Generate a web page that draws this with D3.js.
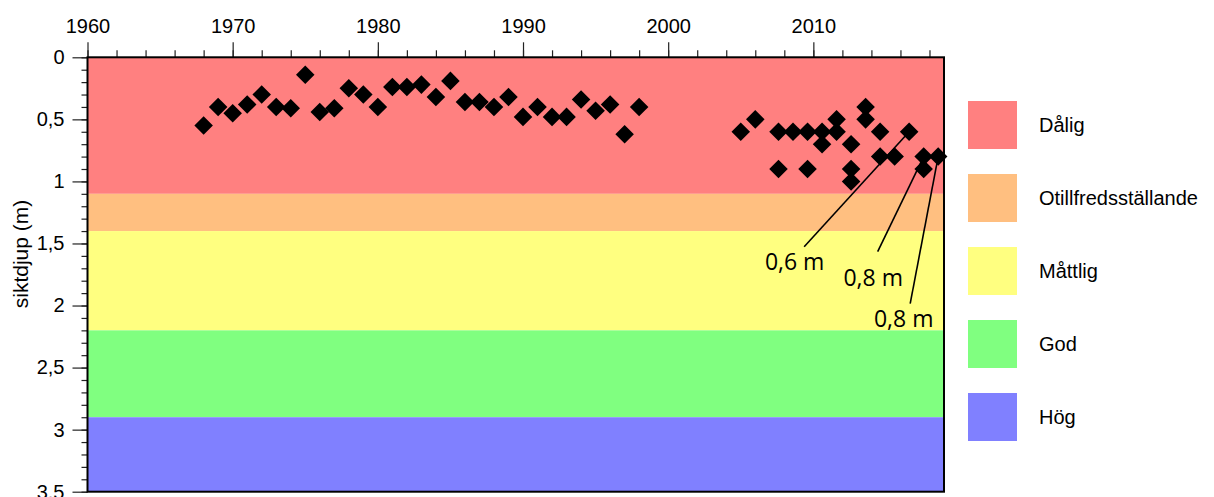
<!DOCTYPE html>
<html>
<head>
<meta charset="utf-8">
<script src="https://cdn.jsdelivr.net/npm/d3@7"></script>
<style>
  html, body { margin: 0; padding: 0; background: #fff; }
  svg { display: block; }
  text { font-family: "Liberation Sans", Arial, sans-serif; fill: #000; }
</style>
</head>
<body>
<svg id="chart" width="1214" height="497"></svg>
<script>
// Secchi depth (siktdjup, m) per sampling occasion, decimal year
const years = [
  1968, 1969, 1970, 1971, 1972, 1973, 1974, 1975, 1976, 1977,
  1978, 1979, 1980, 1981, 1982, 1983, 1984, 1985, 1986, 1987,
  1988, 1989, 1990, 1991, 1992, 1993, 1994, 1995, 1996, 1997, 1998,
  2005, 2006, 2007.6, 2007.6, 2008.6, 2009.6, 2009.6, 2010.6, 2010.6,
  2011.6, 2011.6, 2012.6, 2012.6, 2012.6, 2013.6, 2013.6, 2014.6, 2014.6,
  2015.6, 2016.6, 2017.6, 2017.6, 2018.6
];
const depths = [
  0.55, 0.40, 0.45, 0.38, 0.30, 0.40, 0.41, 0.14, 0.44, 0.41,
  0.25, 0.30, 0.40, 0.24, 0.24, 0.22, 0.32, 0.19, 0.36, 0.36,
  0.40, 0.32, 0.48, 0.40, 0.48, 0.48, 0.34, 0.43, 0.38, 0.62, 0.40,
  0.6, 0.5, 0.6, 0.9, 0.6, 0.6, 0.9, 0.6, 0.7,
  0.5, 0.6, 0.7, 0.9, 1.0, 0.4, 0.5, 0.6, 0.8,
  0.8, 0.6, 0.8, 0.9, 0.8
];

// Status classes and their depth limits (m)
const classNames = ["Dålig", "Otillfredsställande", "Måttlig", "God", "Hög"];
const classLimits = [0, 1.1, 1.4, 2.2, 2.9, 3.5];
const classColors = ["#ff8080", "#ffbf80", "#ffff80", "#80ff80", "#8080ff"];

// Axis ticks
const xMajorTicks = [1960, 1970, 1980, 1990, 2000, 2010];
const xMinorTicks = d3.range(1960, 2019, 2);
const yMajorTicks = [0, 0.5, 1, 1.5, 2, 2.5, 3, 3.5];
const yMinorTicks = d3.range(0, 36).map(i => i / 10);

// Labelled recent observations
const noteYears = [2016.6, 2017.6, 2018.6];
const noteDepths = [0.6, 0.8, 0.8];

const svg = d3.select("#chart");
const plot = { left: 87.5, right: 944, top: 57.3, bottom: 491.7 };

const x = d3.scaleLinear().domain([1960, 2019]).range([plot.left, plot.right]);
const y = d3.scaleLinear().domain([0, 3.5]).range([plot.top, plot.bottom]);
const comma = v => String(v).replace(".", ",");

// Class bands
svg.append("g").selectAll("rect")
  .data(classNames)
  .join("rect")
  .attr("x", plot.left)
  .attr("width", plot.right - plot.left)
  .attr("y", (d, i) => y(classLimits[i]))
  .attr("height", (d, i) => y(classLimits[i + 1]) - y(classLimits[i]))
  .attr("fill", (d, i) => classColors[i]);

// Top axis: minor and major ticks
const tickStyle = g => {
  g.select(".domain").remove();
  g.selectAll(".tick line").attr("stroke", "#222").attr("stroke-width", 1.2);
  g.selectAll(".tick text").style("font-size", "20px").attr("fill", "#000");
};
svg.append("g")
  .attr("transform", `translate(0,${plot.top})`)
  .call(d3.axisTop(x).tickValues(xMinorTicks).tickSize(7).tickFormat(""))
  .call(tickStyle);
svg.append("g")
  .attr("transform", `translate(0,${plot.top})`)
  .call(d3.axisTop(x).tickValues(xMajorTicks).tickSize(15).tickPadding(9).tickFormat(d3.format("d")))
  .call(tickStyle);

// Left axis: minor and major ticks
svg.append("g")
  .attr("transform", `translate(${plot.left},0)`)
  .call(d3.axisLeft(y).tickValues(yMinorTicks).tickSize(6).tickFormat(""))
  .call(tickStyle);
svg.append("g")
  .attr("transform", `translate(${plot.left},0)`)
  .call(d3.axisLeft(y).tickValues(yMajorTicks).tickSize(15).tickPadding(8).tickFormat(comma))
  .call(tickStyle);

// Y axis title
svg.append("text")
  .attr("transform", `translate(28,254) rotate(-90)`)
  .attr("text-anchor", "middle")
  .style("font-size", "21px")
  .text("siktdjup (m)");

// Plot frame
svg.append("rect")
  .attr("x", plot.left).attr("y", plot.top)
  .attr("width", plot.right - plot.left).attr("height", plot.bottom - plot.top)
  .attr("fill", "none").attr("stroke", "#000").attr("stroke-width", 2);

// Observations as diamonds
const diamond = d3.symbol().type(d3.symbolSquare).size(172);
svg.append("g").selectAll("path")
  .data(years.map((yr, i) => ({ yr, v: depths[i] })))
  .join("path")
  .attr("d", diamond)
  .attr("transform", d => `translate(${x(d.yr)},${y(d.v)}) rotate(45)`)
  .attr("fill", "#000");

// Leader lines and value labels
const leaderOffsets = [[-105, 115], [-46, 95], [-28, 147]];
const labelOffsets = [[-9.5, 23], [-4.5, 34], [-6.5, 23]];
const notes = svg.append("g");
noteYears.forEach((yr, i) => {
  const px = x(yr), py = y(noteDepths[i]);
  const ex = px + leaderOffsets[i][0], ey = py + leaderOffsets[i][1];
  notes.append("line")
    .attr("x1", px).attr("y1", py).attr("x2", ex).attr("y2", ey)
    .attr("stroke", "#000").attr("stroke-width", 1.6);
  notes.append("text")
    .attr("x", ex + labelOffsets[i][0]).attr("y", ey + labelOffsets[i][1])
    .attr("text-anchor", "middle")
    .style("font-family", "'Open Sans', sans-serif")
    .style("font-size", "23px")
    .text(comma(noteDepths[i]) + " m");
});

// Legend
const legend = svg.append("g").selectAll("g")
  .data(classNames)
  .join("g")
  .attr("transform", (d, i) => `translate(968,${101 + i * 73})`);
legend.append("rect")
  .attr("width", 49).attr("height", 48)
  .attr("fill", (d, i) => classColors[i]);
legend.append("text")
  .attr("x", 71).attr("y", 24).attr("dy", "0.35em")
  .style("font-size", "20px")
  .text(d => d);
</script>
</body>
</html>
